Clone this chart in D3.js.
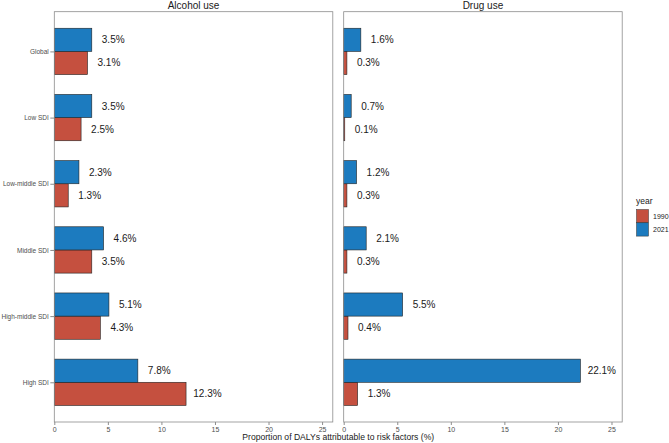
<!DOCTYPE html>
<html>
<head>
<meta charset="utf-8">
<script src="https://cdn.jsdelivr.net/npm/d3@7"></script>
<style>
  body { margin: 0; background: #fff; }
  svg { font-family: 'Liberation Sans', Arial, sans-serif; }
</style>
</head>
<body>
<svg id="chart" width="669" height="443"></svg>
<script>
const regions = ['Global', 'Low SDI', 'Low-middle SDI', 'Middle SDI', 'High-middle SDI', 'High SDI']
const years = ['1990', '2021']
const facets = ['Alcohol use', 'Drug use']

const alcohol1990 = [3.1, 2.5, 1.3, 3.5, 4.3, 12.3]
const alcohol2021 = [3.5, 3.5, 2.3, 4.6, 5.1, 7.8]
const drug1990 = [0.3, 0.1, 0.3, 0.3, 0.4, 1.3]
const drug2021 = [1.6, 0.7, 1.2, 2.1, 5.5, 22.1]

const xTicks = [0, 5, 10, 15, 20, 25]

const colours = { '1990': '#C5503F', '2021': '#1C7BBF' }

const seriesByFacet = {
    'Alcohol use': { '1990': alcohol1990, '2021': alcohol2021 },
    'Drug use': { '1990': drug1990, '2021': drug2021 }
}

const svg = d3.select('#chart')

const panelTop = 11.7
const panelBottom = 422
const panelWidth = 278.5
const panelLefts = [54.3, 343.7]

const x = d3.scaleLinear().domain([0, 26.0]).range([0, panelWidth])

// discrete scale with ggplot-style 0.6 expansion
const step = (panelBottom - panelTop) / (regions.length - 1 + 1.2)
const y = d3.scalePoint().domain(regions)
    .range([panelTop + 0.6 * step, panelBottom - 0.6 * step])
const barH = step * 0.35

facets.forEach((facet, fi) => {
    const left = panelLefts[fi]
    const g = svg.append('g').attr('transform', `translate(${left},0)`)

    g.append('text')
        .attr('x', panelWidth / 2)
        .attr('y', 9)
        .attr('text-anchor', 'middle')
        .style('font-size', '10px')
        .attr('fill', '#1a1a1a')
        .text(facet)

    const data = []
    years.forEach(yr => {
        seriesByFacet[facet][yr].forEach((v, i) => {
            data.push({ region: regions[i], year: yr, value: v })
        })
    })

    const yOffset = d => d.year === '2021' ? -barH : 0

    g.selectAll('rect.bar')
        .data(data)
        .join('rect')
        .attr('class', 'bar')
        .attr('x', x(0))
        .attr('y', d => y(d.region) + yOffset(d))
        .attr('width', d => x(d.value) - x(0))
        .attr('height', barH)
        .attr('fill', d => colours[d.year])
        .attr('stroke', '#222')
        .attr('stroke-width', 0.6)

    g.selectAll('text.lab')
        .data(data)
        .join('text')
        .attr('class', 'lab')
        .attr('x', d => x(d.value + 2))
        .attr('y', d => y(d.region) + yOffset(d) + barH / 2)
        .attr('dy', '0.35em')
        .attr('text-anchor', 'middle')
        .style('font-size', '10px')
        .attr('fill', '#1a1a1a')
        .text(d => d.value.toFixed(1) + '%')

    // panel border
    g.append('rect')
        .attr('x', 0)
        .attr('y', panelTop)
        .attr('width', panelWidth)
        .attr('height', panelBottom - panelTop)
        .attr('fill', 'none')
        .attr('stroke', '#8c8c8c')
        .attr('stroke-width', 0.8)

    const xAxis = g.append('g')
        .attr('transform', `translate(0,${panelBottom})`)
        .call(d3.axisBottom(x).tickValues(xTicks).tickSize(3).tickPadding(2))
    xAxis.select('.domain').remove()
    xAxis.selectAll('line').attr('stroke', '#8c8c8c')
    xAxis.selectAll('text').attr('fill', '#4d4d4d').style('font-size', '7px')

    if (fi === 0) {
        const yAxis = g.append('g')
            .call(d3.axisLeft(y).tickSize(4).tickPadding(1.5))
        yAxis.select('.domain').remove()
        yAxis.selectAll('line').attr('stroke', '#8c8c8c')
        yAxis.selectAll('text').attr('fill', '#4d4d4d').style('font-size', '6.5px')
    }
})

svg.append('text')
    .attr('x', (panelLefts[0] + panelLefts[1] + panelWidth) / 2)
    .attr('y', 440)
    .attr('text-anchor', 'middle')
    .style('font-size', '8.6px')
    .attr('fill', '#1a1a1a')
    .text('Proportion of DALYs attributable to risk factors (%)')

// legend
const legend = svg.append('g').attr('transform', 'translate(636,0)')
legend.append('text')
    .attr('x', 0)
    .attr('y', 204)
    .style('font-size', '8.5px')
    .attr('fill', '#1a1a1a')
    .text('year')

years.forEach((yr, i) => {
    legend.append('rect')
        .attr('x', 0.5)
        .attr('y', 209.5 + i * 13.3)
        .attr('width', 12)
        .attr('height', 13.3)
        .attr('fill', colours[yr])
        .attr('stroke', '#333')
        .attr('stroke-width', 0.5)
    legend.append('text')
        .attr('x', 17)
        .attr('y', 216.2 + i * 13.3)
        .attr('dy', '0.35em')
        .style('font-size', '7px')
        .attr('fill', '#1a1a1a')
        .text(yr)
})
</script>
</body>
</html>
